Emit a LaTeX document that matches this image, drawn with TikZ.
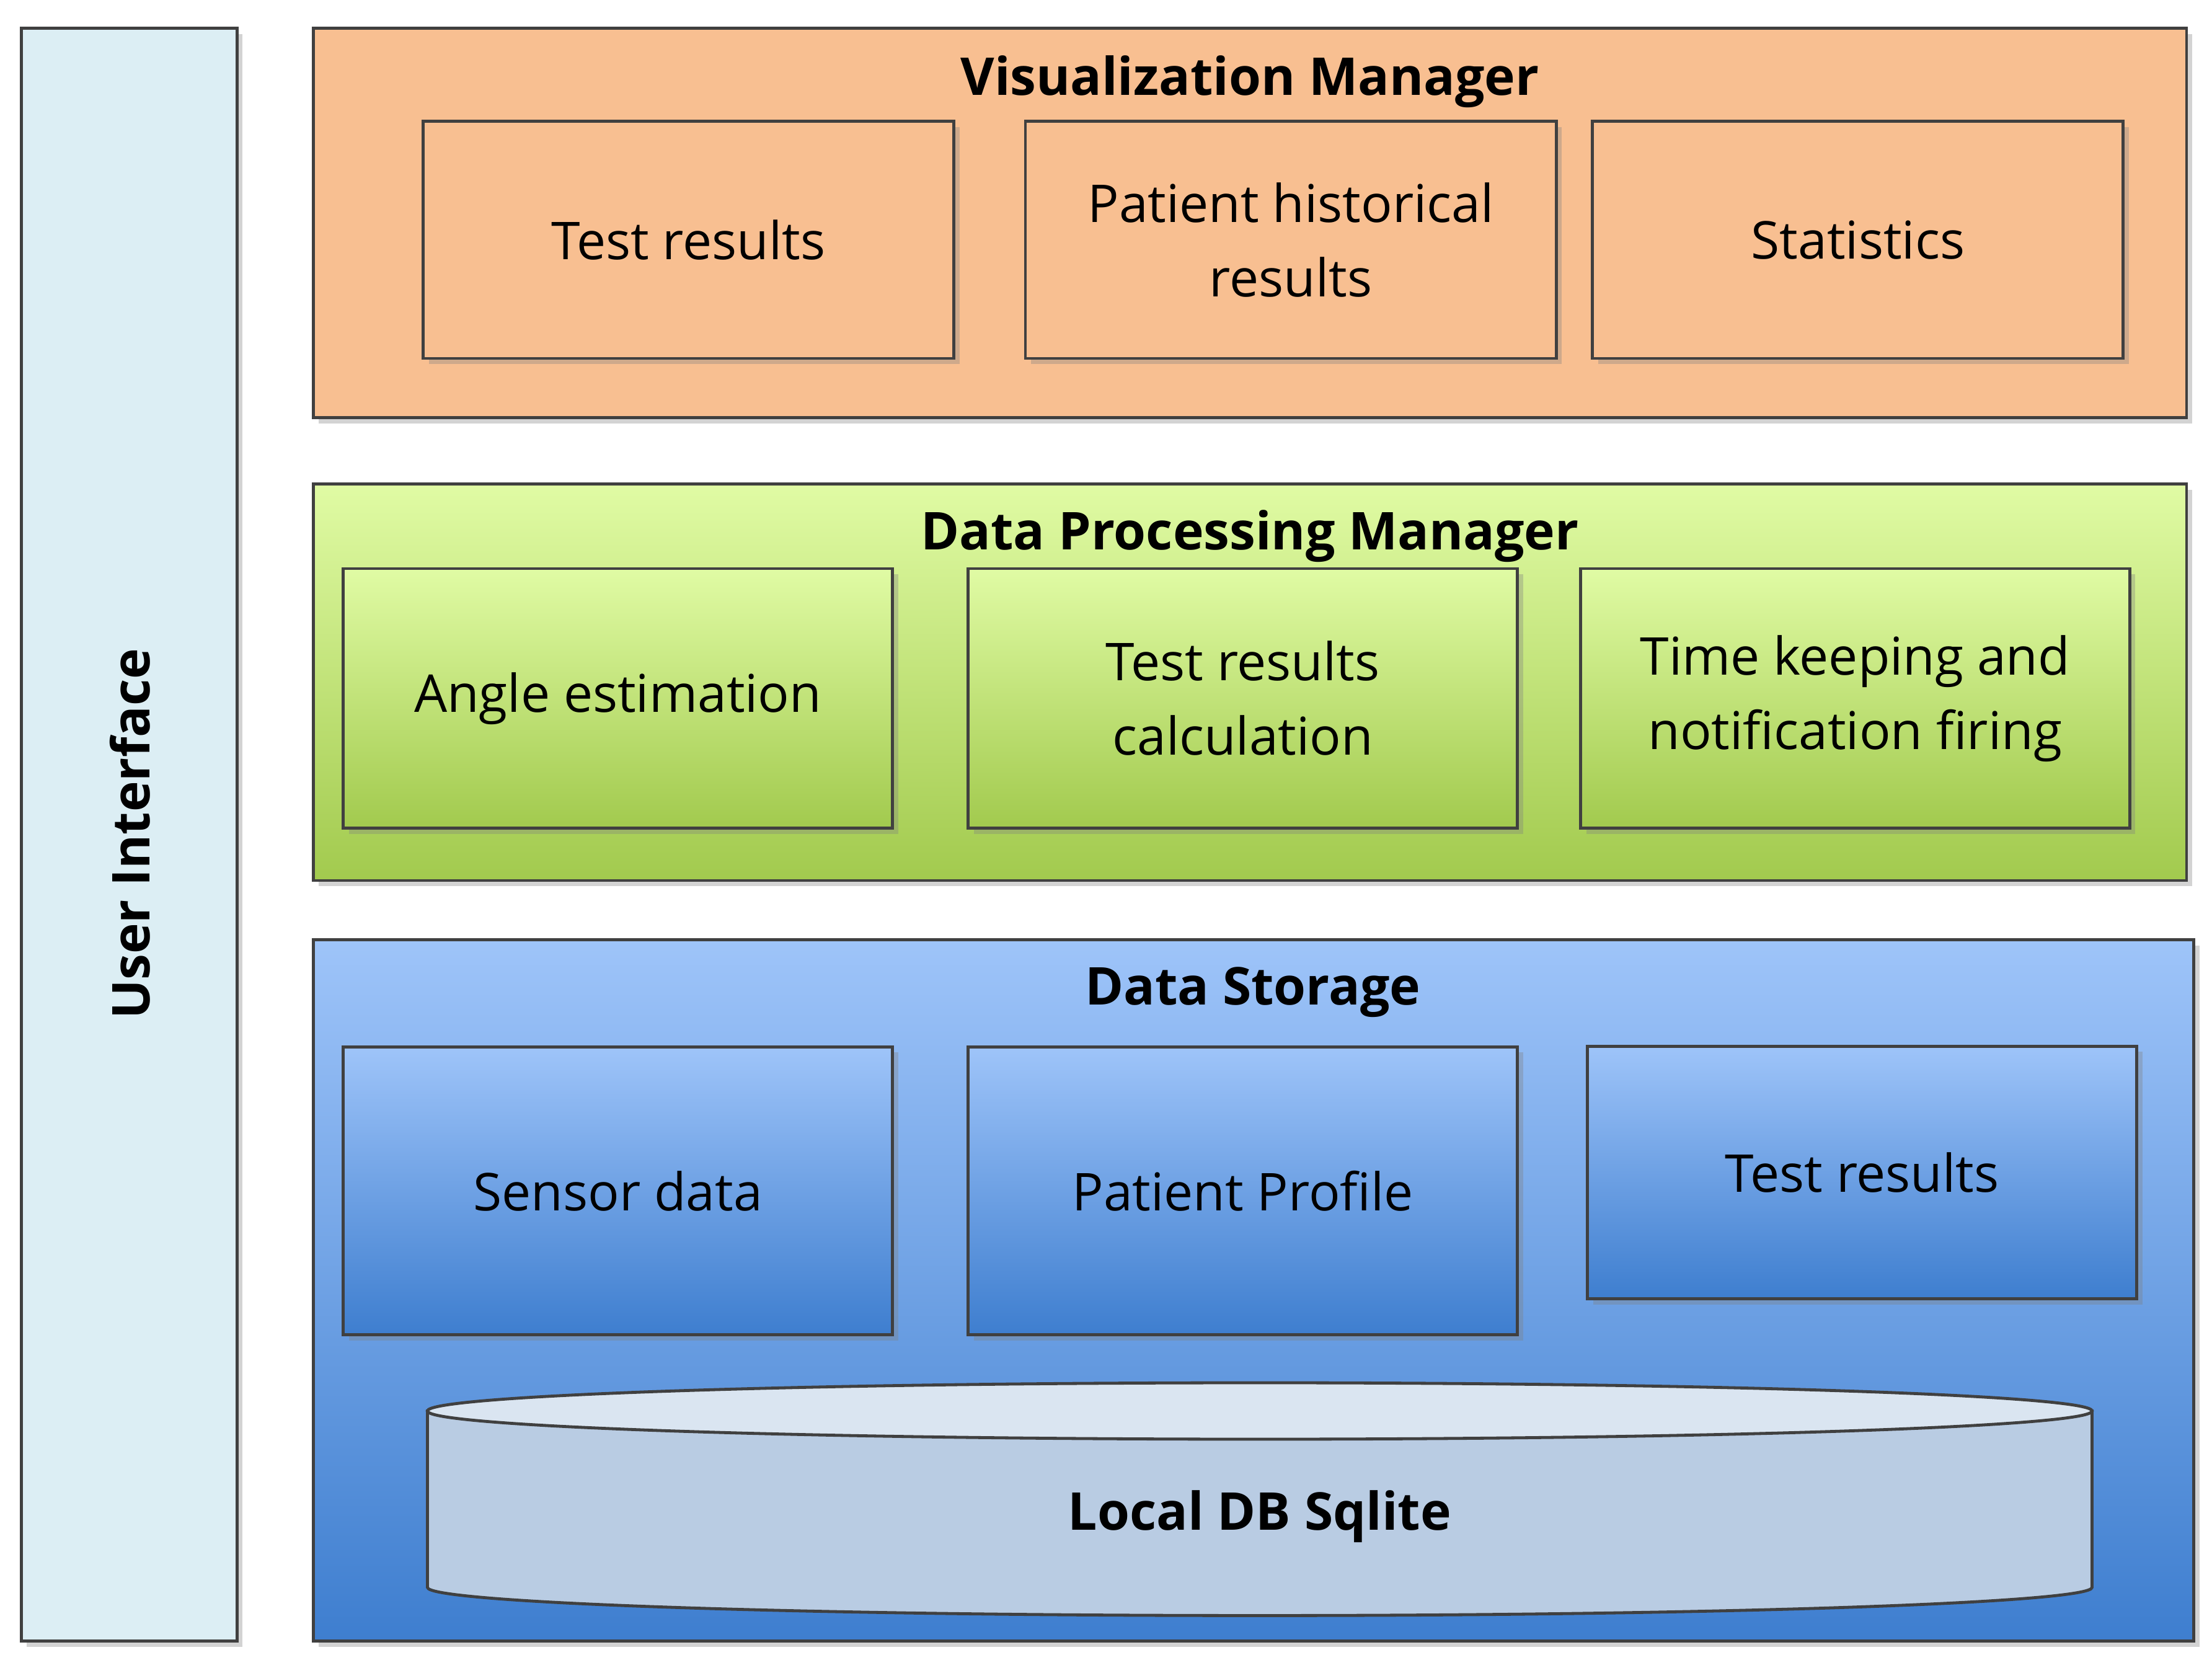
\documentclass[tikz,border=0pt]{standalone}
\usepackage{fontspec}
\setmainfont{Open Sans}
\usetikzlibrary{shadows}
\definecolor{uiblue}{HTML}{DCEEF4}
\definecolor{visorange}{HTML}{F8BF91}
\definecolor{dpmtop}{HTML}{E0FBA4}
\definecolor{dpmbot}{HTML}{A2CA4E}
\definecolor{dstop}{HTML}{9EC4F9}
\definecolor{dsbot}{HTML}{3E7ECF}
\definecolor{dbside}{HTML}{B9CCE3}
\definecolor{dbtop}{HTML}{DAE5F1}
\begin{document}
\begin{tikzpicture}[x=0.01cm,y=-0.01cm]
\useasboundingbox (0,0) rectangle (1568,1182);

\tikzstyle{layer} = [draw=black!75,line width=0.6pt,drop shadow={opacity=0.35,shadow xshift=0.4mm,shadow yshift=-0.4mm}]
\tikzstyle{box} = [layer,align=center,font=\fontsize{10.5}{15}\selectfont,inner sep=0pt]
\tikzstyle{title} = [font=\bfseries\fontsize{10.5}{13}\selectfont]

% user interface
\draw[layer,fill=uiblue] (15,20) rectangle (168,1163);
\node[title,rotate=90] (ui) at (92,591) {User Interface};

% visualization manager
\draw[layer,fill=visorange] (222,20) rectangle (1550,296);
\node[title] (vis) at (886,58) {Visualization Manager};
\node[box,fill=visorange,minimum width=3.76cm,minimum height=1.68cm] (vtest) at (488,170) {Test results};
\node[box,fill=visorange,minimum width=3.76cm,minimum height=1.68cm] (vhist) at (915,170) {Patient historical\\results};
\node[box,fill=visorange,minimum width=3.76cm,minimum height=1.68cm] (vstat) at (1317,170) {Statistics};

% data processing manager
\draw[layer,top color=dpmtop,bottom color=dpmbot] (222,343) rectangle (1550,624);
\node[title] (dpm) at (886,380) {Data Processing Manager};
\tikzstyle{greenbox} = [box,top color=dpmtop,bottom color=dpmbot,minimum width=3.89cm,minimum height=1.84cm]
\node[greenbox] (angle) at (438,495) {Angle estimation};
\node[greenbox] (calc) at (881,495) {Test results\\calculation};
\node[greenbox] (time) at (1315,495) {Time keeping and\\notification firing};

% data storage
\draw[layer,top color=dstop,bottom color=dsbot] (222,666) rectangle (1555,1163);
\node[title] (ds) at (888,703) {Data Storage};
\tikzstyle{bluebox} = [box,top color=dstop,bottom color=dsbot,minimum width=3.89cm]
\node[bluebox,minimum height=2.04cm] (sensor) at (438,844) {Sensor data};
\node[bluebox,minimum height=2.04cm] (profile) at (881,844) {Patient Profile};
\node[bluebox,minimum height=1.79cm] (dstest) at (1320,831) {Test results};

% local db
\fill[dbside,draw=black!75,line width=0.6pt] (303,1000) -- (303,1125) arc[start angle=180,end angle=360,x radius=590,y radius=-20] -- (1483,1000) -- cycle;
\draw[fill=dbtop,draw=black!75,line width=0.6pt] (893,1000) ellipse[x radius=590,y radius=20];
\node[title] (db) at (893,1075) {Local DB Sqlite};

\end{tikzpicture}
\end{document}
